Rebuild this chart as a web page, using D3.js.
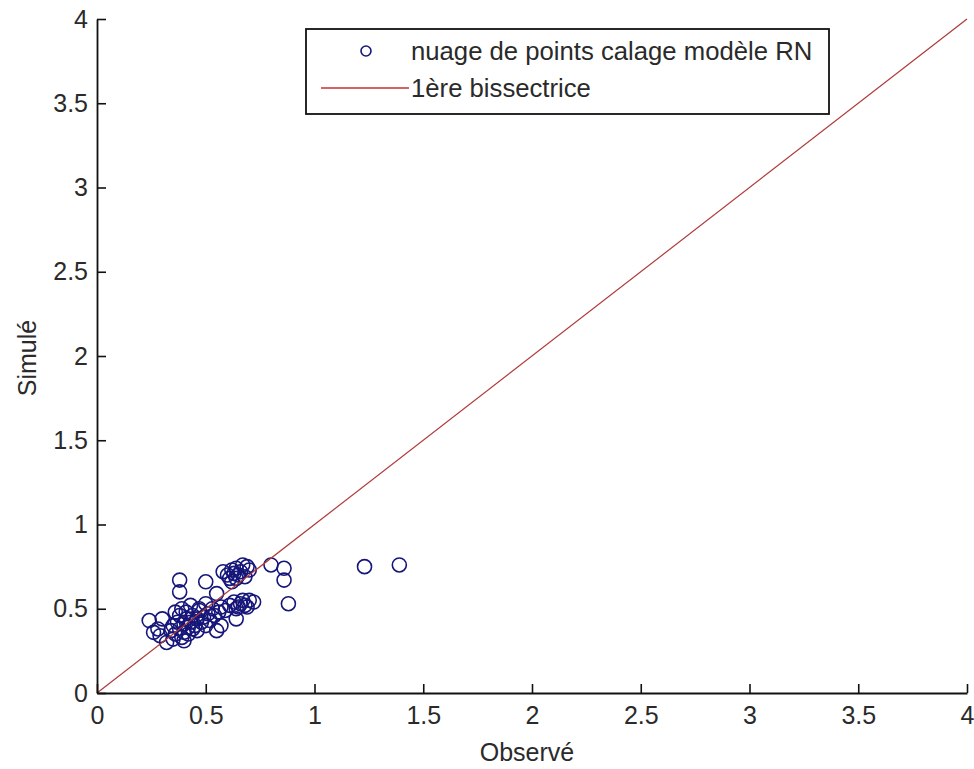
<!DOCTYPE html>
<html>
<head>
<meta charset="utf-8">
<script src="https://cdn.jsdelivr.net/npm/d3@7"></script>
<style>
  html, body { margin: 0; padding: 0; background: #ffffff; }
  svg text { font-family: "Liberation Sans", Arial, sans-serif; fill: #2a2a2a; }
</style>
</head>
<body>
<svg id="chart" width="974" height="769"></svg>
<script>
// Observed vs simulated values (calibration of the RN model)
const observed = [
  0.58, 0.60, 0.61, 0.62, 0.63, 0.64, 0.65, 0.66, 0.67, 0.68, 0.69, 0.62, 0.70, 0.64,
  0.80, 0.86, 0.86, 0.88, 1.23, 1.39,
  0.38, 0.38, 0.50, 0.55,
  0.61, 0.63, 0.65, 0.66, 0.67, 0.68, 0.70, 0.69, 0.64, 0.72,
  0.64, 0.55, 0.57,
  0.24, 0.30, 0.26, 0.28, 0.32, 0.29,
  0.34, 0.35, 0.36, 0.37, 0.38, 0.38, 0.39, 0.40, 0.40, 0.41, 0.41, 0.42, 0.42, 0.43,
  0.44, 0.44, 0.45, 0.46, 0.46, 0.47, 0.48, 0.49, 0.50, 0.51, 0.52, 0.53, 0.54, 0.56,
  0.36, 0.39, 0.43, 0.47, 0.50, 0.57, 0.59, 0.35, 0.40
];
const simulated = [
  0.72, 0.70, 0.68, 0.73, 0.71, 0.74, 0.70, 0.72, 0.76, 0.69, 0.75, 0.66, 0.73, 0.68,
  0.76, 0.74, 0.67, 0.53, 0.75, 0.76,
  0.67, 0.60, 0.66, 0.59,
  0.52, 0.54, 0.51, 0.53, 0.55, 0.52, 0.55, 0.51, 0.50, 0.54,
  0.44, 0.37, 0.40,
  0.43, 0.44, 0.36, 0.38, 0.30, 0.34,
  0.37, 0.40, 0.35, 0.42, 0.38, 0.46, 0.33, 0.41, 0.36, 0.44, 0.48, 0.39, 0.35, 0.42,
  0.46, 0.38, 0.40, 0.44, 0.37, 0.49, 0.42, 0.45, 0.40, 0.47, 0.43, 0.50, 0.46, 0.48,
  0.48, 0.50, 0.52, 0.50, 0.53, 0.51, 0.49, 0.32, 0.31
];
// First bisector y = x across the full range
const bisector = [0, 4];

const xTicks = [0, 0.5, 1, 1.5, 2, 2.5, 3, 3.5, 4];
const yTicks = [0, 0.5, 1, 1.5, 2, 2.5, 3, 3.5, 4];
const legendLabels = ["nuage de points calage modèle RN", "1ère bissectrice"];
const xLabel = "Observé";
const yLabel = "Simulé";

const svg = d3.select("#chart");
const plotLeft = 97, plotRight = 967, plotTop = 19, plotBottom = 693;

const x = d3.scaleLinear().domain([0, 4]).range([plotLeft, plotRight]);
const y = d3.scaleLinear().domain([0, 4]).range([plotBottom, plotTop]);

const fontSize = 25;
const axisColor = "#111";
const markerColor = "#16167a";
const lineColor = "#b03a3a";

// Scatter points
const pts = observed.map((o, i) => [o, simulated[i]]);
svg.append("g")
  .selectAll("circle")
  .data(pts)
  .join("circle")
  .attr("cx", d => x(d[0]))
  .attr("cy", d => y(d[1]))
  .attr("r", 7)
  .attr("fill", "none")
  .attr("stroke", markerColor)
  .attr("stroke-width", 1.6);

// Bisector line
svg.append("line")
  .attr("x1", x(bisector[0])).attr("y1", y(bisector[0]))
  .attr("x2", x(bisector[1])).attr("y2", y(bisector[1]))
  .attr("stroke", lineColor)
  .attr("stroke-width", 1.2);

// X axis with inward ticks
const xAxis = d3.axisBottom(x).tickValues(xTicks).tickSizeInner(-9).tickSizeOuter(0)
  .tickFormat(d3.format("~g"));
const gx = svg.append("g").attr("transform", `translate(0,${plotBottom})`).call(xAxis);
gx.select(".domain").attr("stroke", axisColor).attr("stroke-width", 1.8);
gx.selectAll(".tick line").attr("stroke", axisColor).attr("stroke-width", 1.6);
gx.selectAll(".tick text")
  .attr("y", 13).attr("dy", "0.71em")
  .style("font-size", fontSize + "px")
  .style("font-family", "Liberation Sans, Arial, sans-serif")
  .attr("fill", "#2a2a2a");

// Y axis with inward ticks
const yAxis = d3.axisLeft(y).tickValues(yTicks).tickSizeInner(-9).tickSizeOuter(0)
  .tickFormat(d3.format("~g"));
const gy = svg.append("g").attr("transform", `translate(${plotLeft},0)`).call(yAxis);
gy.select(".domain").attr("stroke", axisColor).attr("stroke-width", 1.8);
gy.selectAll(".tick line").attr("stroke", axisColor).attr("stroke-width", 1.6);
gy.selectAll(".tick text")
  .attr("x", -9)
  .style("font-size", fontSize + "px")
  .style("font-family", "Liberation Sans, Arial, sans-serif")
  .attr("fill", "#2a2a2a");

// Axis titles
svg.append("text")
  .attr("x", (plotLeft + plotRight) / 2 - 5).attr("y", 752)
  .attr("text-anchor", "middle").attr("dominant-baseline", "central")
  .style("font-size", fontSize + "px")
  .text(xLabel);
svg.append("text")
  .attr("transform", `translate(27,${(plotTop + plotBottom) / 2 + 2}) rotate(-90)`)
  .attr("text-anchor", "middle").attr("dominant-baseline", "central")
  .style("font-size", fontSize + "px")
  .text(yLabel);

// Legend
const lg = svg.append("g");
lg.append("rect")
  .attr("x", 306).attr("y", 29).attr("width", 523).attr("height", 85)
  .attr("fill", "#fff").attr("stroke", axisColor).attr("stroke-width", 1.8);
lg.append("circle")
  .attr("cx", 366).attr("cy", 51).attr("r", 5)
  .attr("fill", "none").attr("stroke", markerColor).attr("stroke-width", 1.6);
lg.append("text")
  .attr("x", 411).attr("y", 51).attr("dominant-baseline", "central")
  .style("font-size", "25.7px")
  .text(legendLabels[0]);
lg.append("line")
  .attr("x1", 321).attr("x2", 409).attr("y1", 88).attr("y2", 88)
  .attr("stroke", "#c83030").attr("stroke-width", 1.4);
lg.append("text")
  .attr("x", 411).attr("y", 88).attr("dominant-baseline", "central")
  .style("font-size", "25.7px")
  .text(legendLabels[1]);
</script>
</body>
</html>
